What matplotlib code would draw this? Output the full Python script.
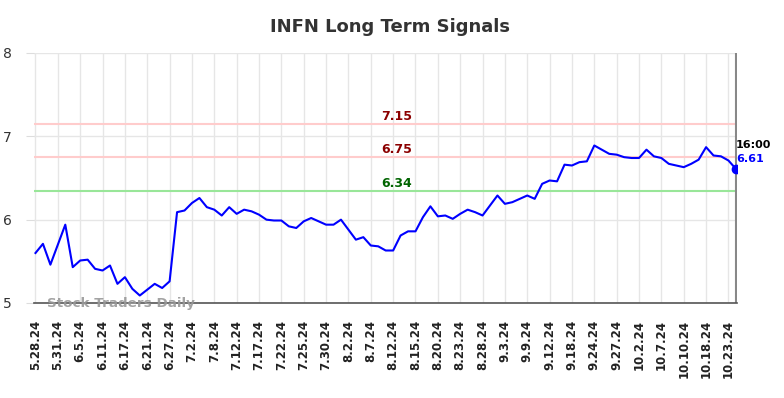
import matplotlib
matplotlib.use("Agg")
import matplotlib.pyplot as plt

values = [5.60, 5.71, 5.46, 5.70, 5.94, 5.43, 5.51, 5.52, 5.41, 5.39,
          5.45, 5.23, 5.31, 5.17, 5.09, 5.16, 5.23, 5.18, 5.26, 6.09,
          6.11, 6.20, 6.26, 6.15, 6.12, 6.05, 6.15, 6.07, 6.12, 6.10,
          6.06, 6.00, 5.99, 5.99, 5.92, 5.90, 5.98, 6.02, 5.98, 5.94,
          5.94, 6.00, 5.88, 5.76, 5.79, 5.69, 5.68, 5.63, 5.63, 5.81,
          5.86, 5.86, 6.03, 6.16, 6.04, 6.05, 6.01, 6.07, 6.12, 6.09,
          6.05, 6.17, 6.29, 6.19, 6.21, 6.25, 6.29, 6.25, 6.43, 6.47,
          6.46, 6.66, 6.65, 6.69, 6.70, 6.89, 6.84, 6.79, 6.78, 6.75,
          6.74, 6.74, 6.84, 6.76, 6.74, 6.67, 6.65, 6.63, 6.67, 6.72,
          6.87, 6.77, 6.76, 6.71, 6.61]

tick_labels = ["5.28.24", "5.31.24", "6.5.24", "6.11.24", "6.17.24", "6.21.24",
               "6.27.24", "7.2.24", "7.8.24", "7.12.24", "7.17.24", "7.22.24",
               "7.25.24", "7.30.24", "8.2.24", "8.7.24", "8.12.24", "8.15.24",
               "8.20.24", "8.23.24", "8.28.24", "9.3.24", "9.9.24", "9.12.24",
               "9.18.24", "9.24.24", "9.27.24", "10.2.24", "10.7.24", "10.10.24",
               "10.18.24", "10.23.24"]
tick_step = 3

resistance_high = 7.15
resistance_low = 6.75
support = 6.34
last_time = "16:00"

fig = plt.figure(figsize=(7.84, 3.98), dpi=100)
ax = fig.add_axes([34/784, 1 - 303/398, (737 - 34)/784, 250/398])

x = list(range(len(values)))
ax.set_xlim(-0.2, len(values) - 1 + 0.15)
ax.set_ylim(5, 8)

tick_pos = [i * tick_step for i in range(len(tick_labels))]
ax.set_xticks(tick_pos)
ax.set_xticklabels(tick_labels, rotation=90, fontsize=8.5, fontweight="bold", color="#222222")
ax.set_yticks([5, 6, 7, 8])
ax.set_yticklabels(["5", "6", "7", "8"], fontsize=10, color="#333333")
ax.tick_params(axis="x", length=0, pad=12)
ax.tick_params(axis="y", length=6, color="#dddddd", pad=10)

ax.grid(True, color="#e6e6e6", linewidth=1)
ax.set_axisbelow(True)
for s in ["top", "right", "left"]:
    ax.spines[s].set_visible(False)
ax.spines["bottom"].set_color("#555555")
ax.spines["bottom"].set_linewidth(1.2)

ax.axhline(resistance_high, color="#ffcccc", linewidth=1.5, zorder=1)
ax.axhline(resistance_low, color="#ffcccc", linewidth=1.5, zorder=1)
ax.axhline(support, color="#99e699", linewidth=1.5, zorder=1)

mid = 48.5
off = 0.015
ax.text(mid, resistance_high + off, f"{resistance_high:.2f}", color="#8b0000",
        fontsize=9, fontweight="bold", ha="center", va="bottom")
ax.text(mid, resistance_low + off, f"{resistance_low:.2f}", color="#8b0000",
        fontsize=9, fontweight="bold", ha="center", va="bottom")
ax.text(mid, support + off, f"{support:.2f}", color="#006400",
        fontsize=9, fontweight="bold", ha="center", va="bottom")

ax.axvline(len(values) - 1, color="#888888", linewidth=1.5, zorder=2)
ax.plot(x, values, color="#0000ff", linewidth=1.5, zorder=3)
ax.plot([x[-1]], [values[-1]], "o", color="#0000ff", markersize=6, zorder=4)

ax.text(len(values) - 1, values[-1] + 0.29, last_time, color="#000000", fontsize=8,
        fontweight="bold", ha="left", va="center", clip_on=False)
ax.text(len(values) - 1, values[-1] + 0.12, f"{values[-1]:.2f}", color="#0000ff",
        fontsize=8, fontweight="bold", ha="left", va="center", clip_on=False)

ax.text(1.5, 5.0, "Stock Traders Daily", color="#999999", fontsize=9.7,
        fontweight="bold", ha="left", va="center", alpha=0.9, zorder=5)

fig.suptitle("INFN Long Term Signals", x=0.497, y=0.955, fontsize=13,
             fontweight="bold", color="#333333")

fig.savefig("out.png", dpi=100)
